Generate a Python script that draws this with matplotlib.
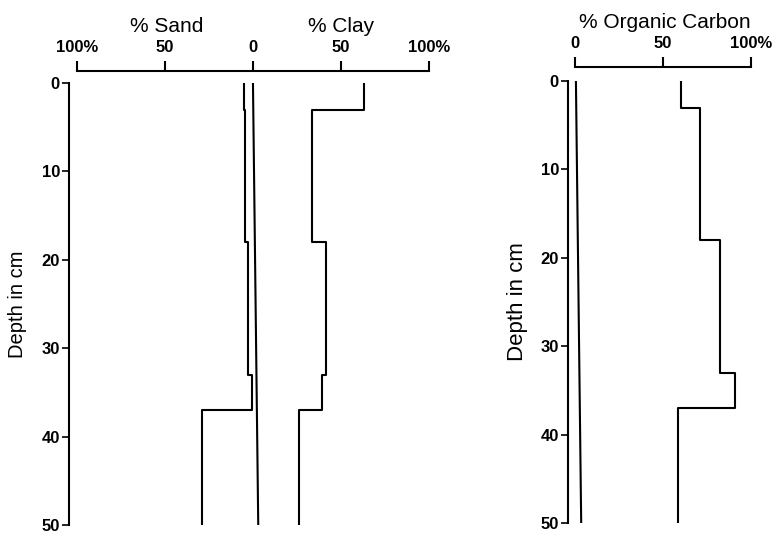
import numpy as np
import matplotlib
matplotlib.use("Agg")
import matplotlib.pyplot as plt

plt.rcParams['font.family'] = ['Liberation Sans', 'DejaVu Sans']

# layer boundaries in cm (same for every profile)
depth_breaks = [0, 3, 18, 33, 37, 50]
sand_pct = [5, 4.5, 3, 0.8, 29]
clay_pct = [63, 33.5, 41.5, 39.5, 26]
oc_pct = [60, 71, 82.5, 91, 58.5]

# the near-zero guide lines drawn in the original (they drift a little)
guide_depth = [0, 50]
guide_left = [0, 3]
guide_right = [0.5, 3.5]

depth_ticks = [0, 10, 20, 30, 40, 50]
left_xticks = [-100, -50, 0, 50, 100]
left_xlabels = ['100%', '50', '0', '50', '100%']
right_xticks = [0, 50, 100]
right_xlabels = ['0', '50', '100%']


def step_profile(breaks, values):
    # vertical steps: each layer is a vertical segment at its value
    d = np.repeat(breaks, 2)[1:-1]
    v = np.repeat(values, 2)
    return v, d


def style_axes(ax, xmin, xmax, xticks, xlabels, top_off):
    ax.set_ylim(50, 0)
    ax.set_xlim(xmin, xmax)
    ax.spines['right'].set_visible(False)
    ax.spines['bottom'].set_visible(False)
    ax.spines['left'].set_bounds(0, 50)
    ax.spines['top'].set_bounds(xticks[0], xticks[-1])
    ax.spines['top'].set_position(('outward', top_off))
    for s in ('left', 'top'):
        ax.spines[s].set_linewidth(1.5)
    ax.xaxis.tick_top()
    ax.set_xticks(xticks)
    ax.set_xticklabels(xlabels)
    ax.set_yticks(depth_ticks)
    ax.tick_params(axis='x', direction='out', length=7.5, width=1.5, pad=4,
                   labelsize=12)
    ax.tick_params(axis='y', direction='out', length=5, width=1.2, pad=1.5,
                   labelsize=12)
    for lbl in ax.get_xticklabels() + ax.get_yticklabels():
        lbl.set_fontweight('bold')


fig = plt.figure(figsize=(7.8, 5.35), dpi=100)
W, H = 780, 535

# left panel: sand (to the left) and clay (to the right)
ax1 = fig.add_axes([69 / W, (H - 525) / H, (429 - 69) / W, (525 - 83) / H])
style_axes(ax1, -104.5, 100, left_xticks, left_xlabels, 9)

v, d = step_profile(depth_breaks, sand_pct)
ax1.plot(-v, d, color='black', lw=1.5)
v, d = step_profile(depth_breaks, clay_pct)
ax1.plot(v, d, color='black', lw=1.5)
ax1.plot(guide_left, guide_depth, color='black', lw=1.5)

ax1.set_ylabel('Depth in cm', fontsize=14.5)
ax1.yaxis.set_label_coords(-0.117, 0.5)
ax1.annotate('% Sand', xy=(-49, 1), xycoords=('data', 'axes fraction'),
             xytext=(0, 56), textcoords='offset pixels',
             ha='center', va='center', fontsize=15)
ax1.annotate('% Clay', xy=(50, 1), xycoords=('data', 'axes fraction'),
             xytext=(0, 56), textcoords='offset pixels',
             ha='center', va='center', fontsize=15)

# right panel: organic carbon
ax2 = fig.add_axes([568 / W, (H - 523) / H, (751 - 568) / W, (523 - 81) / H])
style_axes(ax2, -4, 100, right_xticks, right_xlabels, 10)

v, d = step_profile(depth_breaks, oc_pct)
ax2.plot(v, d, color='black', lw=1.5)
ax2.plot(guide_right, guide_depth, color='black', lw=1.5)

ax2.set_ylabel('Depth in cm', fontsize=16)
ax2.yaxis.set_label_coords(-0.219, 0.5)
ax2.annotate('% Organic Carbon', xy=(51, 1), xycoords=('data', 'axes fraction'),
             xytext=(0, 58), textcoords='offset pixels',
             ha='center', va='center', fontsize=15)

fig.savefig('out.png', dpi=100)
